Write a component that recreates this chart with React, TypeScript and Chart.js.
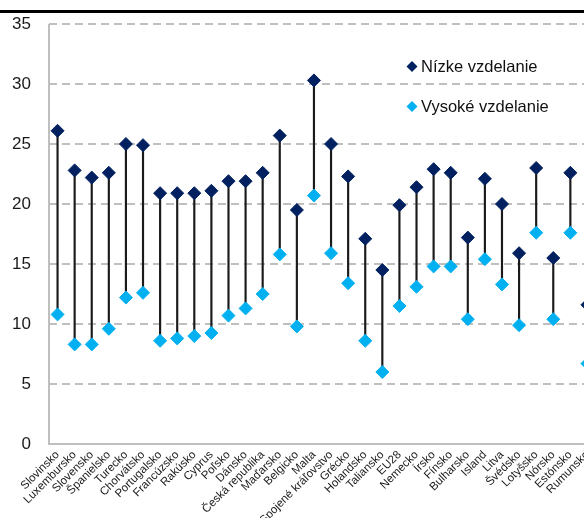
import React, { useEffect, useRef } from "react";
import { Chart, registerables } from "chart.js";

Chart.register(...registerables);

const categories = [
  "Slovinsko", "Luxembursko", "Slovensko", "Španielsko", "Turecko", "Chorvátsko",
  "Portugalsko", "Francúzsko", "Rakúsko", "Cyprus", "Poľsko", "Dánsko",
  "Česká republika", "Maďarsko", "Belgicko", "Malta", "Spojené kráľovstvo", "Grécko",
  "Holandsko", "Taliansko", "EU28", "Nemecko", "Írsko", "Fínsko", "Bulharsko",
  "Island", "Litva", "Švédsko", "Lotyšsko", "Nórsko", "Estónsko", "Rumunsko",
];

const lowEdu = [
  26.1, 22.8, 22.2, 22.6, 25.0, 24.9, 20.9, 20.9, 20.9, 21.1, 21.9, 21.9, 22.6, 25.7,
  19.5, 30.3, 25.0, 22.3, 17.1, 14.5, 19.9, 21.4, 22.9, 22.6, 17.2, 22.1, 20.0, 15.9,
  23.0, 15.5, 22.6, 11.6,
];

const highEdu = [
  10.8, 8.3, 8.3, 9.6, 12.2, 12.6, 8.6, 8.8, 9.0, 9.25, 10.7, 11.3, 12.5, 15.8, 9.8,
  20.7, 15.9, 13.4, 8.6, 6.0, 11.5, 13.1, 14.8, 14.8, 10.4, 15.4, 13.3, 9.9, 17.6, 10.4,
  17.6, 6.7,
];

const seriesLabels = ["Nízke vzdelanie", "Vysoké vzdelanie"];
const yTicks = { min: 0, max: 35, step: 5 };

const DARK = "#002060";
const LIGHT = "#00B0F0";
const GRID = "#BFBFBF";
const FONT = "'Liberation Sans', Arial, sans-serif";

const axisLinePlugin = {
  id: "solidYAxis",
  afterDraw(chart: any) {
    const { ctx, chartArea } = chart;
    ctx.save();
    ctx.strokeStyle = GRID;
    ctx.lineWidth = 2;
    ctx.setLineDash([]);
    ctx.beginPath();
    ctx.moveTo(chartArea.left, chartArea.top);
    ctx.lineTo(chartArea.left, chartArea.bottom);
    ctx.stroke();
    ctx.restore();
  },
};

const legendPlugin = {
  id: "innerLegend",
  afterDraw(chart: any) {
    const { ctx, chartArea } = chart;
    const x = chartArea.left + 363;
    const rows = [
      { y: chartArea.top + 42.5, ds: chart.data.datasets[1] },
      { y: chartArea.top + 82.5, ds: chart.data.datasets[2] },
    ];
    ctx.save();
    rows.forEach((r) => {
      const c = r.ds.backgroundColor;
      const s = 5.5;
      ctx.fillStyle = c;
      ctx.beginPath();
      ctx.moveTo(x, r.y - s);
      ctx.lineTo(x + s, r.y);
      ctx.lineTo(x, r.y + s);
      ctx.lineTo(x - s, r.y);
      ctx.closePath();
      ctx.fill();
      ctx.fillStyle = "#111";
      ctx.font = `16.5px ${FONT}`;
      ctx.textAlign = "left";
      ctx.textBaseline = "middle";
      ctx.fillText(r.ds.label, x + 9, r.y + 1);
    });
    ctx.restore();
  },
};

export default function App() {
  const ref = useRef<HTMLCanvasElement>(null);

  useEffect(() => {
    if (!ref.current) return;
    const chart = new Chart(ref.current, {
      type: "bar",
      data: {
        labels: categories,
        datasets: [
          {
            type: "bar",
            label: "range",
            data: lowEdu.map((v, i) => [highEdu[i], v]) as any,
            backgroundColor: "#1a1a1a",
            barThickness: 1.5,
            order: 3,
          } as any,
          {
            type: "line",
            label: seriesLabels[0],
            data: lowEdu,
            showLine: false,
            pointStyle: "rectRot",
            pointRadius: 6.5,
            pointBorderWidth: 1,
            backgroundColor: DARK,
            borderColor: DARK,
            order: 1,
          },
          {
            type: "line",
            label: seriesLabels[1],
            data: highEdu,
            showLine: false,
            pointStyle: "rectRot",
            pointRadius: 6.5,
            pointBorderWidth: 1,
            backgroundColor: LIGHT,
            borderColor: LIGHT,
            order: 2,
          },
        ],
      },
      options: {
        responsive: false,
        animation: false,
        layout: { padding: { top: 24, right: 14, left: 0, bottom: 0 } },
        plugins: { legend: { display: false }, tooltip: { enabled: false } },
        scales: {
          x: {
            offset: true,
            grid: { display: false, drawTicks: false },
            border: { display: true, color: GRID, width: 2 },
            ticks: {
              autoSkip: false,
              maxRotation: 45,
              minRotation: 45,
              padding: 4,
              color: "#1a1a1a",
              font: { family: FONT, size: 11.5 },
            },
            afterFit: (scale: any) => {
              scale.height = 74;
            },
          },
          y: {
            min: yTicks.min,
            max: yTicks.max,
            ticks: {
              stepSize: yTicks.step,
              padding: 18,
              color: "#1a1a1a",
              font: { family: FONT, size: 17 },
            },
            grid: {
              color: (ctx: any) => (ctx.tick && ctx.tick.value === 0 ? "rgba(0,0,0,0)" : GRID),
              lineWidth: 2,
              drawTicks: false,
            },
            border: { display: false, color: GRID, width: 2, dash: [8, 5] },
            afterFit: (scale: any) => {
              scale.width = 49;
              scale.paddingTop = 0;
              scale.paddingBottom = 0;
            },
          },
        },
      },
      plugins: [axisLinePlugin, legendPlugin],
    });
    return () => chart.destroy();
  }, []);

  return (
    <div
      style={{
        position: "fixed",
        left: 0,
        top: 0,
        width: 584,
        height: 518,
        overflow: "hidden",
        background: "#fff",
      }}
    >
      <div
        style={{
          position: "absolute",
          left: 0,
          top: 10,
          width: 584,
          height: 3,
          background: "#000",
        }}
      />
      <canvas ref={ref} width={610} height={518} style={{ display: "block" }} />
    </div>
  );
}
